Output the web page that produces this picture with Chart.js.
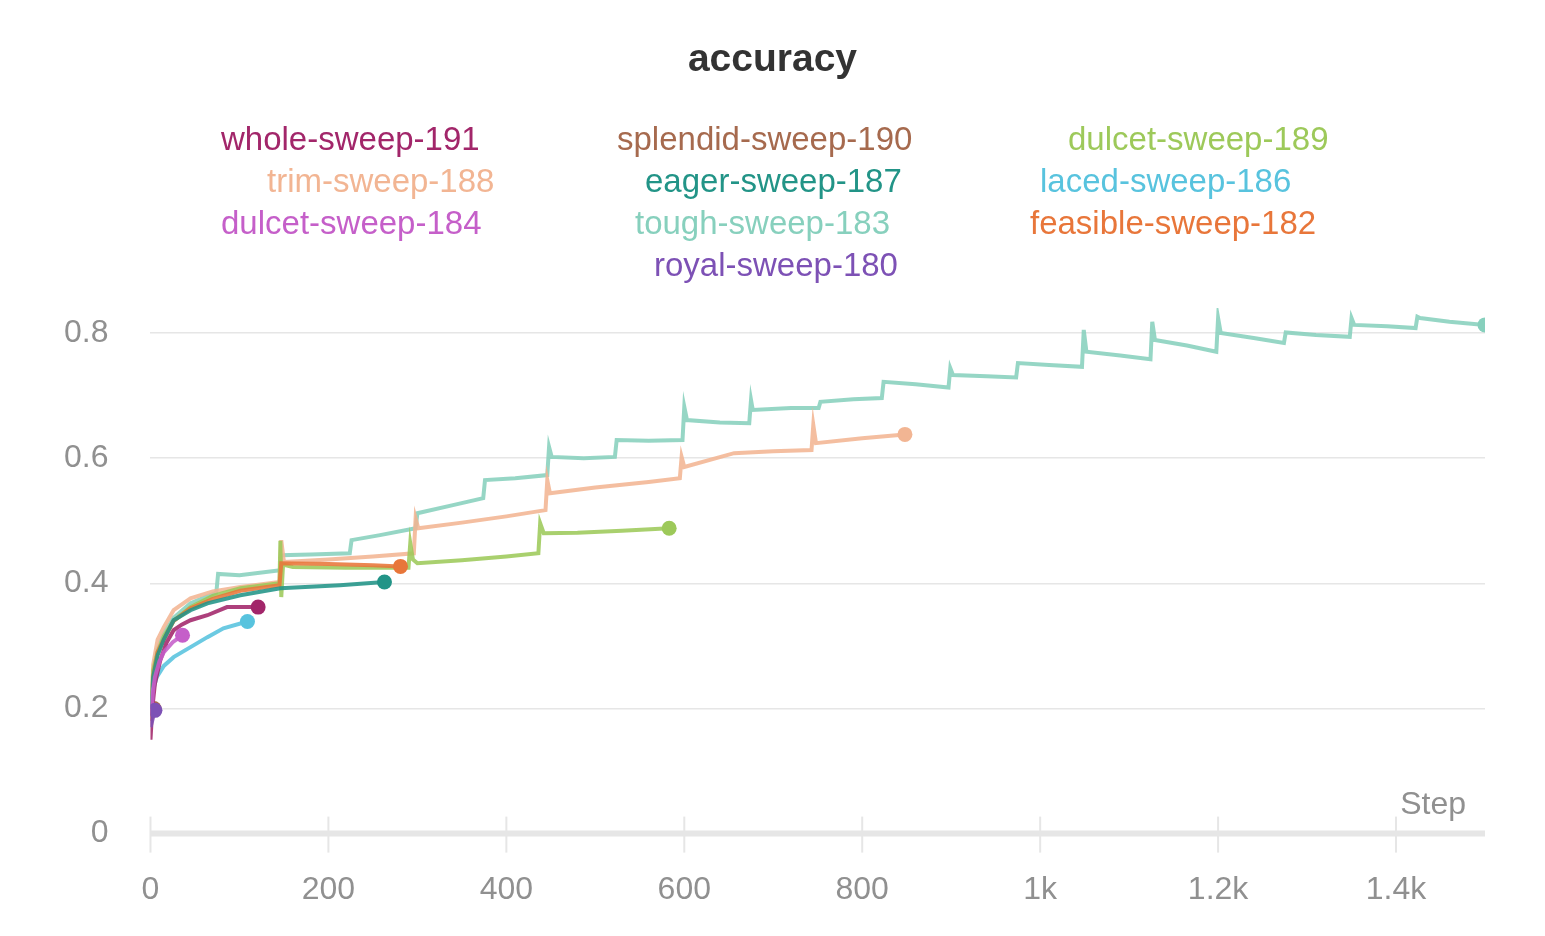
<!DOCTYPE html>
<html>
<head>
<meta charset="utf-8">
<script src="https://cdn.jsdelivr.net/npm/chart.js@4"></script>
<style>
  body { margin: 0; background: #fff; font-family: "Liberation Sans", Arial, sans-serif; }
  #wrap { position: relative; width: 1545px; height: 936px; }
  #title { position: absolute; left: 0; width: 1545px; top: 36px; text-align: center;
           font-weight: bold; font-size: 39px; color: #333; }
  .lg { position: absolute; font-size: 33px; line-height: 36px; white-space: nowrap; }
</style>
</head>
<body>
<div id="wrap">
  <canvas id="chart"></canvas>
  <div id="title">accuracy</div>
  <div id="legend"></div>
</div>
<script>
// run names + colours (legend order)
const runNames = ['whole-sweep-191', 'splendid-sweep-190', 'dulcet-sweep-189',
                  'trim-sweep-188', 'eager-sweep-187', 'laced-sweep-186',
                  'dulcet-sweep-184', 'tough-sweep-183', 'feasible-sweep-182',
                  'royal-sweep-180'];
const runColors = ['#a2266a', '#a66a4e', '#9dc95a', '#f2b593', '#229487', '#58c3de',
                   '#c55fc9', '#87d0bd', '#e8763a', '#7d51b5'];

// [step, accuracy]
const whole191 = [[0,0.15],[2,0.2],[5,0.24],[11,0.277],[18,0.305],[26,0.325],[35,0.334],[45,0.341],[64,0.349],[86,0.362],[101,0.362],[121,0.362]];
const splendid190 = [[0,0.18],[4,0.2]];
const dulcet189 = [[1,0.21],[3,0.26],[8,0.29],[15,0.315],[26,0.34],[45,0.362],[70,0.38],[101,0.392],[145,0.4],
  [146,0.468],[147,0.378],[149,0.43],[160,0.426],[220,0.425],[290,0.425],[292,0.464],[295,0.438],[300,0.432],
  [350,0.437],[400,0.443],[436,0.448],[438,0.496],[442,0.48],[480,0.481],[530,0.484],[583,0.488]];
const trim188 = [[1,0.22],[3,0.27],[8,0.31],[15,0.33],[26,0.357],[45,0.376],[70,0.387],[101,0.394],[145,0.402],
  [147,0.469],[150,0.434],[200,0.438],[250,0.443],[296,0.448],[298,0.504],[301,0.488],[350,0.497],[400,0.507],
  [444,0.517],[446,0.565],[449,0.544],[500,0.553],[560,0.562],[595,0.568],[597,0.602],[600,0.586],[656,0.608],
  [700,0.611],[743,0.613],[745,0.653],[748,0.624],[800,0.632],[848,0.638]];
const eager187 = [[1,0.2],[3,0.25],[8,0.285],[15,0.31],[26,0.341],[45,0.357],[64,0.368],[101,0.381],[146,0.392],[213,0.397],[263,0.402]];
const laced186 = [[1,0.2],[3,0.23],[7,0.25],[15,0.268],[26,0.282],[45,0.298],[64,0.314],[82,0.328],[109,0.339]];
const dulcet184 = [[1,0.19],[3,0.23],[5,0.25],[10,0.275],[15,0.29],[25,0.306],[36,0.317]];
const tough183 = [[1,0.21],[3,0.26],[8,0.295],[15,0.32],[26,0.345],[45,0.368],[74,0.385],[76,0.415],[100,0.413],
  [146,0.421],[147,0.445],[180,0.446],[224,0.448],[226,0.469],[258,0.477],[298,0.488],[300,0.512],[340,0.525],
  [374,0.536],[376,0.565],[410,0.568],[446,0.573],[448,0.618],[451,0.602],[487,0.6],[522,0.602],[524,0.629],
  [560,0.628],[598,0.629],[600,0.682],[603,0.661],[640,0.657],[673,0.656],[675,0.693],[677,0.677],[720,0.68],
  [751,0.68],[753,0.69],[790,0.694],[822,0.696],[824,0.722],[860,0.718],[897,0.713],[899,0.744],[902,0.733],
  [940,0.731],[973,0.729],[975,0.752],[1010,0.749],[1047,0.746],[1049,0.805],[1052,0.77],[1090,0.764],[1124,0.758],
  [1126,0.818],[1129,0.789],[1165,0.78],[1198,0.77],[1200,0.824],[1203,0.8],[1240,0.792],[1274,0.784],[1276,0.801],
  [1310,0.797],[1348,0.794],[1350,0.824],[1353,0.813],[1390,0.811],[1422,0.808],[1424,0.826],[1427,0.824],[1460,0.818],[1500,0.813]];
const feasible182 = [[1,0.2],[3,0.25],[8,0.29],[15,0.31],[26,0.34],[45,0.36],[70,0.375],[101,0.388],[145,0.397],
  [147,0.432],[200,0.431],[250,0.429],[281,0.427]];
const royal180 = [[0,0.17],[5,0.197]];

const xTicks = [0, 200, 400, 600, 800, 1000, 1200, 1400];
const yTicks = [0, 0.2, 0.4, 0.6, 0.8];

const runData = [whole191, splendid190, dulcet189, trim188, eager187, laced186,
                 dulcet184, tough183, feasible182, royal180];

// legend, three columns like the reference
const legendPos = [[221,121],[617,121],[1068,121],[267,163],[645,163],[1040,163],
                   [221,205],[635,205],[1030,205],[654,247]];
const legend = document.getElementById('legend');
runNames.forEach((n, i) => {
  const d = document.createElement('div');
  d.className = 'lg';
  d.textContent = n;
  d.style.color = runColors[i];
  d.style.left = legendPos[i][0] + 'px';
  d.style.top = legendPos[i][1] + 'px';
  legend.appendChild(d);
});

// draw order: first dataset ends up on top
const drawOrder = [9, 6, 0, 5, 4, 8, 2, 3, 7, 1];
const datasets = drawOrder.map(i => ({
  label: runNames[i],
  data: runData[i].map(p => ({ x: p[0], y: p[1] })),
  borderColor: runColors[i] + 'e0',
  backgroundColor: runColors[i],
  borderWidth: 4,
  pointRadius: ctx => ctx.dataIndex === runData[i].length - 1 ? 7.5 : 0,
  pointBorderWidth: 0,
  pointHoverRadius: 0,
  tension: 0
}));

const axisDeco = {
  id: 'axisDeco',
  beforeDatasetsDraw(chart) {
    const c = chart.ctx, xs = chart.scales.x, ys = chart.scales.y;
    const y0 = ys.getPixelForValue(0);
    c.save();
    c.strokeStyle = '#e6e6e6';
    c.lineWidth = 2;
    xTicks.forEach(v => {
      const px = xs.getPixelForValue(v);
      c.beginPath();
      c.moveTo(px, y0 - 17);
      c.lineTo(px, y0 + 19);
      c.stroke();
    });
    c.lineWidth = 6;
    c.beginPath();
    c.moveTo(chart.chartArea.left, y0);
    c.lineTo(chart.chartArea.right, y0);
    c.stroke();
    c.fillStyle = '#909090';
    c.font = '32px "Liberation Sans", Arial, sans-serif';
    c.textAlign = 'right';
    c.textBaseline = 'middle';
    c.fillText('Step', chart.chartArea.right - 19, y0 - 28);
    c.restore();
  }
};

new Chart(document.getElementById('chart'), {
  type: 'line',
  data: { datasets },
  options: {
    responsive: true,
    maintainAspectRatio: false,
    animation: false,
    layout: { padding: { top: 308, left: 22, right: 60, bottom: -2 } },
    plugins: { legend: { display: false }, title: { display: false }, tooltip: { enabled: false } },
    scales: {
      x: {
        type: 'linear', min: 0, max: 1500,
        afterBuildTicks: s => { s.ticks = xTicks.map(v => ({ value: v })); },
        ticks: {
          color: '#909090', font: { size: 32, family: '"Liberation Sans", Arial, sans-serif' }, padding: 29,
          maxRotation: 0,
          callback: v => v >= 1000 ? (v / 1000) + 'k' : String(v)
        },
        grid: { display: false },
        border: { display: false }
      },
      y: {
        min: 0, max: 0.84,
        afterBuildTicks: s => { s.ticks = yTicks.map(v => ({ value: v })); },
        ticks: {
          color: '#909090', font: { size: 32, family: '"Liberation Sans", Arial, sans-serif' }, padding: 42,
          callback: v => v === 0 ? '0' : v.toFixed(1)
        },
        grid: { color: ctx => ctx.tick.value === 0 ? 'rgba(0,0,0,0)' : '#e6e6e6', lineWidth: 1.5, drawTicks: false },
        border: { display: false }
      }
    }
  },
  plugins: [axisDeco]
});
</script>
</body>
</html>
